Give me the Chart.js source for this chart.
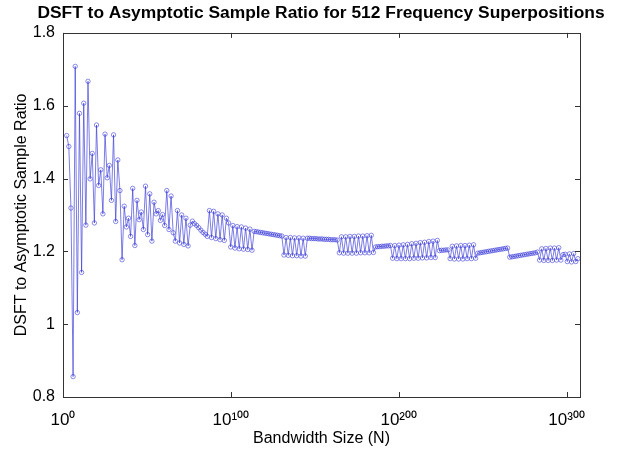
<!DOCTYPE html>
<html>
<head>
<meta charset="utf-8">
<script src="https://cdn.jsdelivr.net/npm/chart.js@4"></script>
<style>
  html, body { margin: 0; padding: 0; background: #fff; }
  #grafica { display: block; }
</style>
</head>
<body>
<canvas id="grafica" width="618" height="449"></canvas>
<script>
//Datos

// ejes
const xTickValues = [0, 100, 200, 300];
const xTickLabels = ['10\u2070', '10\u00b9\u2070\u2070', '10\u00b2\u2070\u2070', '10\u00b3\u2070\u2070'];
const yTickValues = [0.8, 1.0, 1.2, 1.4, 1.6, 1.8];
const yTickLabels = ['0.8', '1', '1.2', '1.4', '1.6', '1.8'];

// tamano de banda: primer valor y paso entre puntos
const firstN = 2.2;
const stepN = 1.269;

// razon DSFT / asintotica, un valor por punto
const ratio = [
  1.518,1.488,1.319,0.856,1.708,1.032,1.579,1.142,1.607,1.272,
  1.667,1.399,1.469,1.278,1.547,1.381,1.424,1.303,1.522,1.402,
  1.436,1.340,1.520,1.282,1.451,1.367,1.177,1.324,1.267,1.291,
  1.241,1.373,1.216,1.340,1.287,1.308,1.260,1.379,1.246,1.358,
  1.228,1.335,1.303,1.312,1.285,1.301,1.271,1.367,1.260,1.352,
  1.251,1.228,1.312,
  1.223,1.300,1.219,1.291,1.215,1.272,1.283,1.276,1.271,1.265,1.258,1.252,1.247,1.241,
  1.312,1.238,1.310,1.235,1.303,1.232,1.300,1.230,1.291,1.278,
  1.212,1.271,1.209,1.268,1.207,1.267,1.206,1.264,1.205,1.261,1.203,
  1.255,1.254,1.253,1.252,1.251,1.250,1.249,1.248,1.247,1.246,1.245,1.244,1.243,1.242,
  1.190,1.238,1.189,1.238,1.188,1.237,1.188,1.237,1.187,1.236,1.187,
  1.236,1.236,1.235,1.235,1.235,1.234,1.234,1.234,1.233,1.233,1.233,1.232,1.232,1.232,1.231,
  1.196,1.240,1.195,1.240,1.195,1.241,1.195,1.241,1.195,1.242,1.196,1.242,1.196,1.243,1.196,1.244,1.197,
  1.212,1.213,1.213,1.214,1.214,1.215,1.215,1.216,
  1.181,1.216,1.180,1.217,1.180,1.218,1.180,1.219,1.180,1.221,1.181,1.222,1.181,1.224,1.182,1.225,1.182,1.227,1.183,1.228,1.183,1.230,
  1.202,1.203,1.203,1.204,1.204,
  1.180,1.214,1.179,1.215,1.179,1.216,1.179,1.216,1.180,1.217,1.180,1.218,1.181,
  1.195,1.196,1.197,1.198,1.199,1.200,1.201,1.202,1.203,1.204,1.205,1.206,1.207,1.208,1.209,
  1.184,1.185,1.186,1.187,1.188,1.189,1.190,1.191,1.192,1.193,1.194,1.195,1.196,1.198,
  1.176,1.207,1.175,1.208,1.175,1.209,1.175,1.209,1.176,1.210,1.176,
  1.191,1.192,
  1.172,1.193,1.171,1.194,1.172,1.180
];

const puntos = ratio.map((v, i) => ({ x: firstN + i * stepN, y: v }));

//Caja y marcas hacia adentro (estilo matlab)
const cajaEjes = {
  id: 'cajaEjes',
  afterDraw(chart) {
    const ctx = chart.ctx;
    const a = chart.chartArea;
    const sx = chart.scales.x;
    const sy = chart.scales.y;
    ctx.save();
    ctx.strokeStyle = '#333';
    ctx.lineWidth = 1;
    ctx.strokeRect(Math.round(a.left) + 0.5, Math.round(a.top) + 0.5,
      Math.round(a.right - a.left), Math.round(a.bottom - a.top));
    ctx.beginPath();
    sx.ticks.forEach(t => {
      const px = Math.round(sx.getPixelForValue(t.value)) + 0.5;
      ctx.moveTo(px, a.bottom); ctx.lineTo(px, a.bottom - 5);
      ctx.moveTo(px, a.top); ctx.lineTo(px, a.top + 5);
    });
    sy.ticks.forEach(t => {
      const py = Math.round(sy.getPixelForValue(t.value)) + 0.5;
      ctx.moveTo(a.left, py); ctx.lineTo(a.left + 5, py);
      ctx.moveTo(a.right, py); ctx.lineTo(a.right - 5, py);
    });
    ctx.stroke();
    ctx.restore();
  }
};

const fuente = 'Liberation Sans, Arial, Helvetica, sans-serif';

const grafica = new Chart(document.getElementById('grafica'), {
  type: 'line',
  data: {
    datasets: [{
      label: 'ratio',
      data: puntos,
      borderColor: 'rgba(50, 50, 215, 0.8)',
      borderWidth: 0.8,
      pointRadius: 2.2,
      pointBorderWidth: 0.7,
      pointBorderColor: 'rgba(50, 50, 215, 0.8)',
      pointBackgroundColor: 'rgba(255,255,255,0)',
      tension: 0,
      fill: false
    }]
  },
  options: {
    responsive: false,
    animation: false,
    // el titulo queda centrado sobre el area del grafico
    layout: { padding: { top: 1, right: 0, bottom: 0, left: 24 } },
    plugins: {
      legend: { display: false },
      tooltip: { enabled: false },
      title: {
        display: true,
        text: 'DSFT to Asymptotic Sample Ratio for 512 Frequency Superpositions',
        color: '#000',
        font: { family: fuente, size: 17.4, weight: 'bold' },
        padding: { top: 2, bottom: 9 }
      }
    },
    scales: {
      x: {
        type: 'linear',
        min: 0,
        max: 308,
        afterBuildTicks: s => { s.ticks = xTickValues.map(v => ({ value: v })); },
        afterFit: s => { s.height = 52; },
        grid: { display: false, drawTicks: false },
        border: { display: false },
        ticks: {
          color: '#000',
          padding: 13,
          maxRotation: 0,
          font: { family: fuente, size: 17 },
          callback: (v, i) => xTickLabels[i]
        },
        title: {
          display: true,
          text: 'Bandwidth Size (N)',
          color: '#000',
          font: { family: fuente, size: 16 },
          padding: { top: 0, bottom: 1 }
        }
      },
      y: {
        min: 0.8,
        max: 1.8,
        afterBuildTicks: s => { s.ticks = yTickValues.map(v => ({ value: v })); },
        afterFit: s => { s.width = 39; },
        grid: { display: false, drawTicks: false },
        border: { display: false },
        ticks: {
          color: '#000',
          padding: 8,
          font: { family: fuente, size: 16 },
          callback: (v, i) => yTickLabels[i]
        },
        title: {
          display: true,
          text: 'DSFT to Asymptotic Sample Ratio',
          color: '#000',
          font: { family: fuente, size: 16 },
          padding: { top: -12, bottom: 0 }
        }
      },
      // eje vacio a la derecha, solo para dejar el margen
      margen: {
        type: 'linear',
        position: 'right',
        min: 0.8,
        max: 1.8,
        afterFit: s => { s.width = 38; },
        grid: { display: false, drawTicks: false },
        border: { display: false },
        ticks: { display: false }
      }
    }
  },
  plugins: [cajaEjes]
});
</script>
</body>
</html>
